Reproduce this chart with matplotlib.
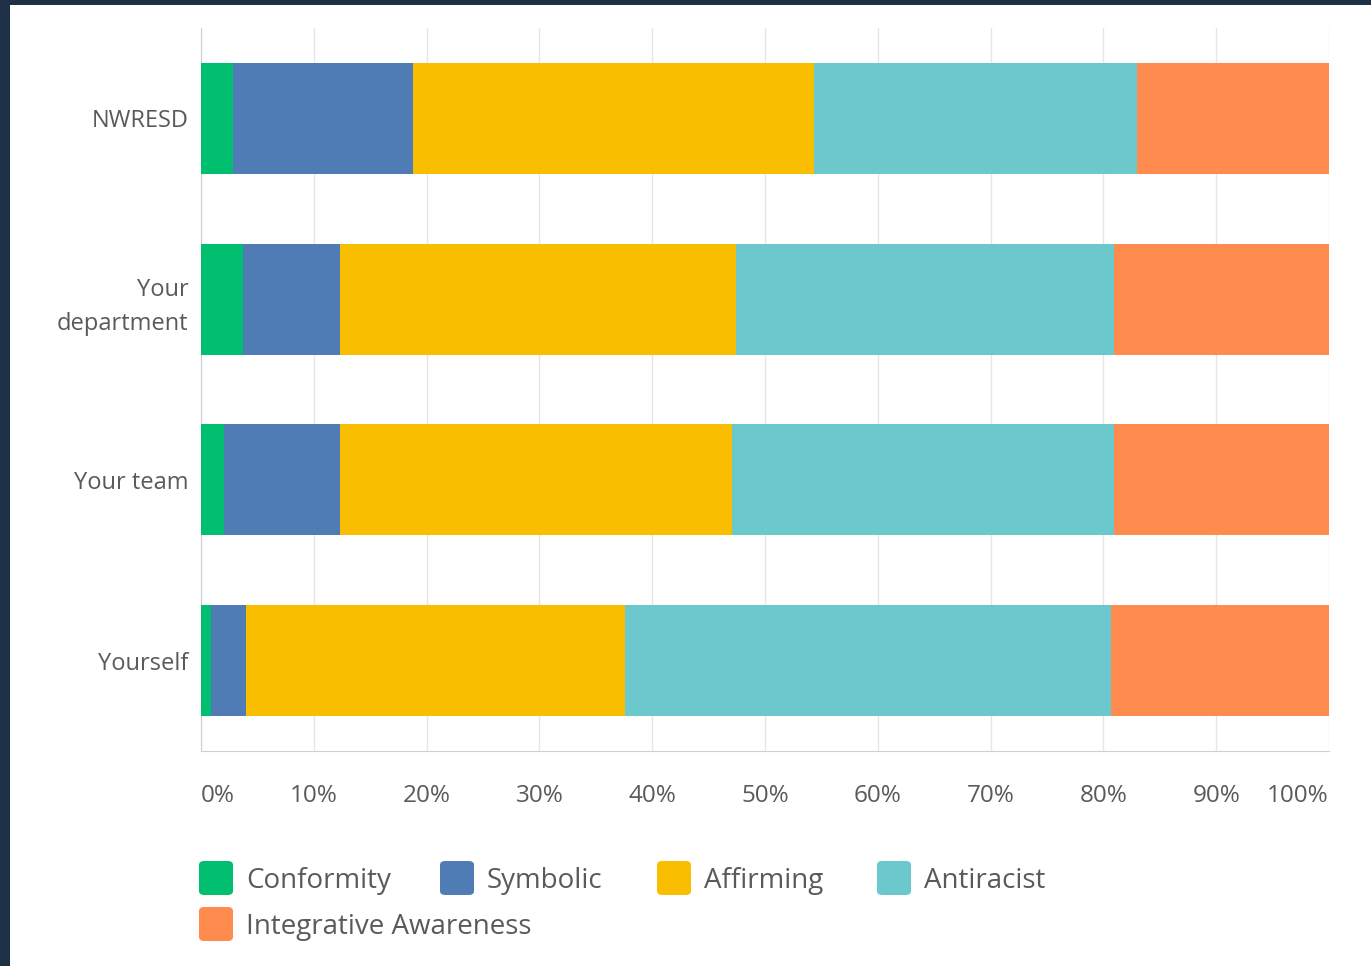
import matplotlib
matplotlib.use("Agg")
import matplotlib.pyplot as plt
from matplotlib.patches import FancyBboxPatch, Rectangle

# Survey groups (top to bottom) and percentage share of each stage
groups = ["NWRESD", "Your\ndepartment", "Your team", "Yourself"]
series = ["Conformity", "Symbolic", "Affirming", "Antiracist", "Integrative Awareness"]
conformity = [2.8, 3.7, 2.0, 0.9]
symbolic = [16.0, 8.6, 10.3, 3.1]
affirming = [35.5, 35.1, 34.8, 33.6]
antiracist = [28.7, 33.5, 33.8, 43.1]
integrative = [17.0, 19.1, 19.1, 19.3]
tick_labels = ["0%", "10%", "20%", "30%", "40%", "50%", "60%", "70%", "80%", "90%", "100%"]

COLORS = ["#00bf6f", "#507cb6", "#f9be00", "#6bc8cd", "#ff8b4f"]
TEXT = "#5a5a5a"
FONT = "Open Sans"

W, H = 1371, 966
fig = plt.figure(figsize=(W / 100, H / 100), dpi=100)
fig.patch.set_facecolor("#1e3045")
# white panel inside the dark frame
fig.patches.append(Rectangle((10 / W, 0), 1, 1 - 5 / H, transform=fig.transFigure,
                             facecolor="white", edgecolor="none", zorder=-10))

ax = fig.add_axes([201 / W, 1 - 751 / H, (1329 - 201) / W, (751 - 28) / H])
ax.set_facecolor("none")
ax.set_zorder(1)

values = [conformity, symbolic, affirming, antiracist, integrative]
ypos = list(range(len(groups)))
left = [0.0] * len(groups)
for name, vals, col in zip(series, values, COLORS):
    ax.barh(ypos, vals, left=left, height=0.615, color=col, edgecolor="none", zorder=3, label=name)
    left = [a + b for a, b in zip(left, vals)]

ax.set_xlim(0, 100)
ax.set_ylim(len(groups) - 0.5, -0.5)
ax.set_xticks(range(0, 101, 10))
ax.set_xticklabels(tick_labels, fontsize=17.5, color=TEXT, family=FONT)
ax.tick_params(axis="x", length=0, pad=24)
xl = ax.get_xticklabels()
xl[0].set_ha("left")
xl[-1].set_ha("right")

ax.set_yticks(ypos)
ax.set_yticklabels(groups, fontsize=17, color=TEXT, family=FONT, ha="right",
                   multialignment="right", linespacing=1.55)
ax.tick_params(axis="y", length=0, pad=9)

ax.grid(axis="x", color="#e6e6e6", linewidth=1, zorder=0)
for side in ["top", "right"]:
    ax.spines[side].set_visible(False)
ax.spines["left"].set_color("#cfcfcf")
ax.spines["bottom"].set_color("#cfcfcf")

# legend drawn by hand to match the two-row layout
legend_pos = [(199, 878), (440, 878), (657, 878), (877, 878), (199, 924)]
for (px, py), name, col in zip(legend_pos, series, COLORS):
    fig.patches.append(FancyBboxPatch((px / W, 1 - (py + 17) / H), 34 / W, 34 / H,
                                      boxstyle="round,pad=0,rounding_size=0.004",
                                      transform=fig.transFigure, facecolor=col,
                                      edgecolor="none", zorder=2))
    fig.text((px + 47) / W, 1 - (py + 3) / H, name, fontsize=20, color=TEXT, family=FONT,
             va="center", ha="left")

fig.savefig("out.png", dpi=100, facecolor=fig.get_facecolor())
